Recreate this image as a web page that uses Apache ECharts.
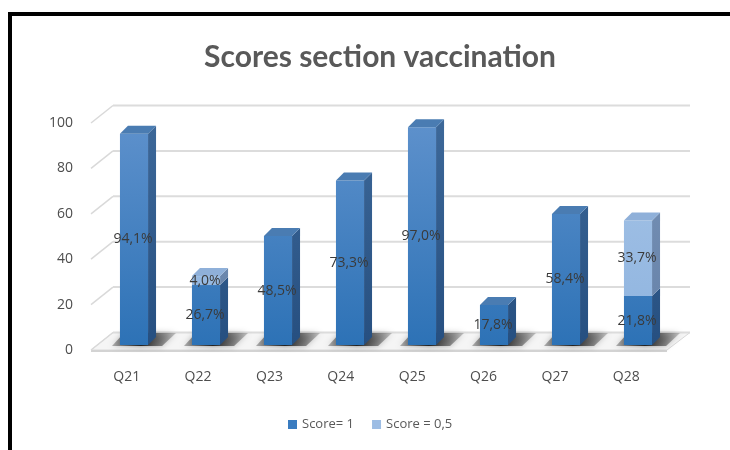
<!DOCTYPE html>
<html>
<head>
<meta charset="utf-8">
<title>Scores section vaccination</title>
<script src="https://cdn.jsdelivr.net/npm/echarts@6/dist/echarts.min.js"></script>
<style>
  html, body { margin: 0; padding: 0; background: #ffffff; }
  #chart { width: 730px; height: 450px; }
</style>
</head>
<body>
<div id="chart"></div>
<script>
// Questions on the category axis
const categories = ['Q21', 'Q22', 'Q23', 'Q24', 'Q25', 'Q26', 'Q27', 'Q28'];
// Share of answers scoring 1 (percent)
const scoreFull = [94.1, 26.7, 48.5, 73.3, 97.0, 17.8, 58.4, 21.8];
// Share of answers scoring 0,5 (percent), stacked on top
const scoreHalf = [0, 4.0, 0, 0, 0, 0, 0, 33.7];
// Value axis ticks
const yTicks = [0, 20, 40, 60, 80, 100];
const seriesNames = ['Score= 1', 'Score = 0,5'];

const chart = echarts.init(document.getElementById('chart'), null, { renderer: 'canvas' });

const FONT = '"Open Sans", "Liberation Sans", sans-serif';
// 3D look of the columns
const DEPTH_X = 8, DEPTH_Y = -8;
// offset of the back wall from the front plane
const WALL_X = 22, WALL_Y = -17.5;

function pct(v) {
  return v.toFixed(1).replace('.', ',') + '%';
}

const palettes = [
  { front: ['#5e91cc', '#2d72b6'], side: ['#3d6899', '#264f80'], top: '#4a7cb2' },
  { front: ['#a6c4e7', '#8fb4df'], side: ['#7893b8', '#6682a8'], top: '#8fb0d9' }
];

function makeBarRenderer(seriesIdx) {
  return function (params, api) {
    const i = api.value(0);
    const base = api.value(1);
    const val = api.value(2);
    if (!val) return null;
    const hasAbove = seriesIdx === 0 && scoreHalf[i] > 0;
    const top = base + val;
    const pBase = api.coord([i, base]);
    const pTop = api.coord([i, top]);
    const y0 = api.coord([i, 0])[1];
    const y100 = api.coord([i, 100])[1];
    const w = api.size([1, 0])[0] * 0.39;
    const xl = pBase[0] - w / 2;
    const xr = pBase[0] + w / 2;
    const yb = pBase[1];
    const yt = pTop[1];
    const pal = palettes[seriesIdx];
    const frontFill = new echarts.graphic.LinearGradient(0, y100, 0, y0,
      [{ offset: 0, color: pal.front[0] }, { offset: 1, color: pal.front[1] }], true);
    const sideFill = new echarts.graphic.LinearGradient(0, y100, 0, y0,
      [{ offset: 0, color: pal.side[0] }, { offset: 1, color: pal.side[1] }], true);
    const children = [
      {
        type: 'polygon',
        shape: { points: [[xr, yt], [xr + DEPTH_X, yt + DEPTH_Y], [xr + DEPTH_X, yb + DEPTH_Y], [xr, yb]] },
        style: { fill: sideFill }
      },
      {
        type: 'rect',
        shape: { x: xl, y: yt, width: w, height: yb - yt },
        style: { fill: frontFill }
      }
    ];
    if (!hasAbove) {
      children.push({
        type: 'polygon',
        shape: { points: [[xl, yt], [xl + DEPTH_X, yt + DEPTH_Y], [xr + DEPTH_X, yt + DEPTH_Y], [xr, yt]] },
        style: { fill: pal.top }
      });
    }
    children.push({
      type: 'text',
      x: (xl + xr) / 2 - 1,
      y: (yt + yb) / 2,
      style: {
        text: pct(val),
        align: 'center',
        verticalAlign: 'middle',
        fill: '#3a3a3a',
        font: '14px ' + FONT
      },
      z2: 10
    });
    return { type: 'group', children: children };
  };
}

// floor, left slanted tick lines and back-wall grid lines
function renderFrame(params, api) {
  const cs = params.coordSys;
  const v = api.value(1);
  const y = api.coord([0, v])[1];
  const children = [];
  if (v === 0) {
    const xr = cs.x + cs.width + 5;
    children.push({
      type: 'polygon',
      shape: { points: [[cs.x, y], [cs.x + WALL_X, y + WALL_Y], [cs.x + cs.width + 28, y + WALL_Y], [xr, y]] },
      style: { fill: '#f5f5f5', stroke: '#d9d9d9', lineWidth: 1 }
    });
    children.push({
      type: 'rect',
      shape: { x: cs.x, y: y, width: xr - cs.x, height: 2 },
      style: { fill: '#d3d3d3' }
    });
  }
  children.push({
    type: 'line',
    shape: { x1: cs.x, y1: y, x2: cs.x + WALL_X, y2: y + WALL_Y },
    style: { stroke: '#d9d9d9', lineWidth: 1.5 }
  });
  children.push({
    type: 'line',
    shape: { x1: cs.x + WALL_X, y1: y + WALL_Y, x2: cs.x + cs.width + 28, y2: y + WALL_Y },
    style: { stroke: '#dcdcdc', lineWidth: 2 }
  });
  return { type: 'group', children: children };
}

// soft shadows cast by the columns on the floor
function renderShadow(params, api) {
  const i = api.value(0);
  const p = api.coord([i, 0]);
  const w = api.size([1, 0])[0] * 0.39;
  const xl = p[0] - w / 2, xr = p[0] + w / 2, yb = p[1];
  return {
    type: 'polygon',
    shape: { points: [[xl - 8, yb + 1], [xr + 14, yb + 1], [xr + 28, yb - 12], [xl + 4, yb - 12]] },
    style: {
      fill: new echarts.graphic.LinearGradient(0, 0, 1, 0, [
        { offset: 0, color: 'rgba(60,60,60,0.35)' },
        { offset: 0.45, color: 'rgba(25,25,25,0.95)' },
        { offset: 1, color: 'rgba(90,90,90,0.3)' }
      ]),
      shadowBlur: 6,
      shadowColor: 'rgba(0,0,0,0.5)'
    }
  };
}

const fullData = categories.map((c, i) => [i, 0, scoreFull[i]]);
const halfData = categories.map((c, i) => [i, scoreFull[i], scoreHalf[i]]);

const option = {
  animation: false,
  backgroundColor: '#ffffff',
  title: {
    text: 'Scores section vaccination',
    left: 375,
    top: 37,
    textAlign: 'center',
    textStyle: { fontFamily: 'Lato, ' + FONT, fontWeight: 'bold', fontSize: 30, color: '#595959' }
  },
  legend: {
    data: seriesNames,
    left: 283,
    top: 413,
    icon: 'rect',
    itemWidth: 9,
    itemHeight: 9,
    itemGap: 18,
    itemTextGap: 4,
    textStyle: { fontFamily: FONT, fontSize: 13, color: '#595959' }
  },
  graphic: [{
    type: 'rect',
    shape: { x: 10, y: 14, width: 800, height: 500 },
    style: { fill: 'none', stroke: '#000000', lineWidth: 4 },
    silent: true
  }],
  grid: [
    { left: 91, right: 68, top: 123, bottom: 100 },
    { left: 98, right: 56, top: 120.5, bottom: 105 }
  ],
  xAxis: [
    {
      type: 'category', gridIndex: 0, data: categories,
      axisLine: { show: false }, axisTick: { show: false },
      axisLabel: { margin: 20, fontFamily: FONT, fontSize: 14, color: '#4d4d4d' }
    },
    {
      type: 'category', gridIndex: 1, data: categories,
      axisLine: { show: false }, axisTick: { show: false }, axisLabel: { show: false }
    }
  ],
  yAxis: [
    {
      type: 'value', gridIndex: 0, min: 0, max: 100, interval: 20,
      axisLine: { show: false }, axisTick: { show: false }, splitLine: { show: false },
      axisLabel: { margin: 18, fontFamily: FONT, fontSize: 14, color: '#4d4d4d' }
    },
    {
      type: 'value', gridIndex: 1, min: 0, max: 100, interval: 20,
      axisLine: { show: false }, axisTick: { show: false }, splitLine: { show: false },
      axisLabel: { show: false }
    }
  ],
  series: [
    {
      type: 'custom', xAxisIndex: 0, yAxisIndex: 0, z: 1, silent: true,
      renderItem: renderFrame,
      data: yTicks.map(v => [0, v])
    },
    {
      type: 'custom', xAxisIndex: 1, yAxisIndex: 1, z: 2, silent: true,
      renderItem: renderShadow,
      data: categories.map((c, i) => [i, 0])
    },
    {
      name: seriesNames[0], type: 'custom', xAxisIndex: 1, yAxisIndex: 1, z: 3,
      itemStyle: { color: '#3a7cc0' },
      renderItem: makeBarRenderer(0),
      encode: { x: 0, y: [1, 2] },
      data: fullData
    },
    {
      name: seriesNames[1], type: 'custom', xAxisIndex: 1, yAxisIndex: 1, z: 4,
      itemStyle: { color: '#9dbde4' },
      renderItem: makeBarRenderer(1),
      encode: { x: 0, y: [1, 2] },
      data: halfData
    }
  ]
};

chart.setOption(option);
</script>
</body>
</html>
